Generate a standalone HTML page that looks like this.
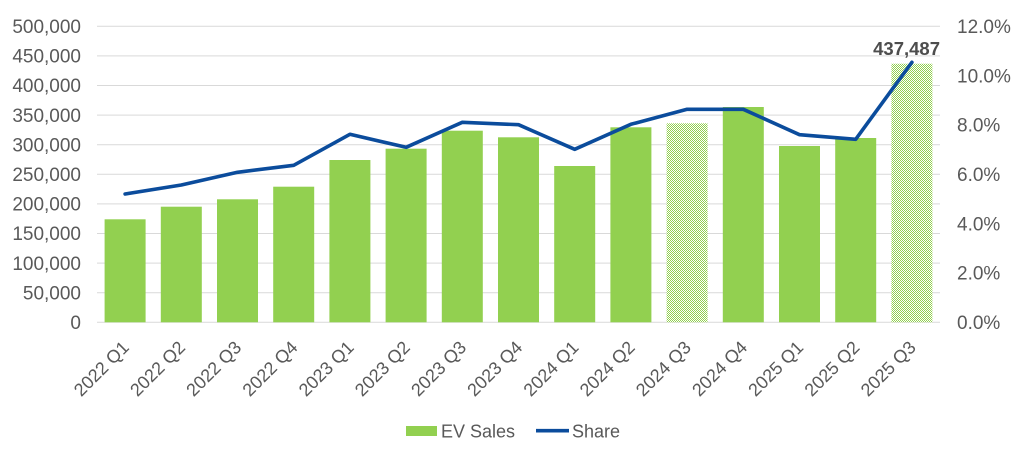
<!DOCTYPE html>
<html>
<head>
<meta charset="utf-8">
<style>
  html, body { margin: 0; padding: 0; background: #ffffff; }
  svg { display: block; }
  text { font-family: "Liberation Sans", Arial, sans-serif; fill: #595959; }
</style>
</head>
<body>
<svg width="1024" height="453" viewBox="0 0 1024 453" xmlns="http://www.w3.org/2000/svg">
  <defs>
    <pattern id="hatch" x="0" y="0" width="2" height="2" patternUnits="userSpaceOnUse">
      <rect width="2" height="2" fill="#ffffff"/>
      <rect x="0" y="0" width="1" height="1" fill="#92D050"/>
      <rect x="1" y="1" width="1" height="1" fill="#92D050"/>
    </pattern>
  </defs>

  <!-- gridlines -->
  <g stroke="#D9D9D9" stroke-width="1">
    <line x1="97" x2="940" y1="26.3" y2="26.3"/>
    <line x1="97" x2="940" y1="55.9" y2="55.9"/>
    <line x1="97" x2="940" y1="85.5" y2="85.5"/>
    <line x1="97" x2="940" y1="115.1" y2="115.1"/>
    <line x1="97" x2="940" y1="144.7" y2="144.7"/>
    <line x1="97" x2="940" y1="174.3" y2="174.3"/>
    <line x1="97" x2="940" y1="203.9" y2="203.9"/>
    <line x1="97" x2="940" y1="233.5" y2="233.5"/>
    <line x1="97" x2="940" y1="263.1" y2="263.1"/>
    <line x1="97" x2="940" y1="292.7" y2="292.7"/>
    <line x1="97" x2="940" y1="322.3" y2="322.3"/>
  </g>

  <!-- left axis labels -->
  <g font-size="19" text-anchor="end">
    <text x="81" y="33">500,000</text>
    <text x="81" y="62.6">450,000</text>
    <text x="81" y="92.2">400,000</text>
    <text x="81" y="121.8">350,000</text>
    <text x="81" y="151.4">300,000</text>
    <text x="81" y="181">250,000</text>
    <text x="81" y="210.6">200,000</text>
    <text x="81" y="240.2">150,000</text>
    <text x="81" y="269.8">100,000</text>
    <text x="81" y="299.4">50,000</text>
    <text x="81" y="329">0</text>
  </g>

  <!-- right axis labels -->
  <g font-size="19" text-anchor="start">
    <text x="957" y="33">12.0%</text>
    <text x="957" y="82.3">10.0%</text>
    <text x="957" y="131.7">8.0%</text>
    <text x="957" y="181">6.0%</text>
    <text x="957" y="230.3">4.0%</text>
    <text x="957" y="279.7">2.0%</text>
    <text x="957" y="329">0.0%</text>
  </g>

  <!-- bars -->
  <g fill="#92D050">
    <rect x="104.6" y="219.3" width="41" height="103"/>
    <rect x="160.8" y="206.7" width="41" height="115.6"/>
    <rect x="217" y="199.3" width="41" height="123"/>
    <rect x="273.2" y="186.7" width="41" height="135.6"/>
    <rect x="329.4" y="160" width="41" height="162.3"/>
    <rect x="385.6" y="148.7" width="41" height="173.6"/>
    <rect x="441.8" y="130.7" width="41" height="191.6"/>
    <rect x="498" y="137.3" width="41" height="185"/>
    <rect x="554.2" y="166" width="41" height="156.3"/>
    <rect x="610.4" y="127.3" width="41" height="195"/>
    <rect x="722.8" y="107" width="41" height="215.3"/>
    <rect x="779" y="146" width="41" height="176.3"/>
    <rect x="835.2" y="138" width="41" height="184.3"/>
  </g>
  <rect x="666.6" y="123.3" width="41" height="199" fill="url(#hatch)"/>
  <rect x="891.4" y="63.7" width="41" height="258.6" fill="url(#hatch)"/>

  <!-- share line -->
  <polyline fill="none" stroke="#0B4C9C" stroke-width="3.6" stroke-linejoin="round" stroke-linecap="round"
    points="125.1,194 181.3,185 237.5,172.3 293.7,165.3 349.9,134.3 406.1,147.3 462.3,122.3 518.5,124.7 574.7,149.3 630.9,124.3 687.1,109.3 743.3,109.3 799.5,134.7 855.7,139.3 911.9,62.3"/>

  <!-- data label -->
  <text x="940" y="55" font-size="18.5" font-weight="bold" text-anchor="end" style="fill:#4D4D4D">437,487</text>

  <!-- x axis labels -->
  <g font-size="18" text-anchor="end">
    <text transform="translate(130.1,348.5) rotate(-45)">2022 Q1</text>
    <text transform="translate(186.3,348.5) rotate(-45)">2022 Q2</text>
    <text transform="translate(242.5,348.5) rotate(-45)">2022 Q3</text>
    <text transform="translate(298.7,348.5) rotate(-45)">2022 Q4</text>
    <text transform="translate(354.9,348.5) rotate(-45)">2023 Q1</text>
    <text transform="translate(411.1,348.5) rotate(-45)">2023 Q2</text>
    <text transform="translate(467.3,348.5) rotate(-45)">2023 Q3</text>
    <text transform="translate(523.5,348.5) rotate(-45)">2023 Q4</text>
    <text transform="translate(579.7,348.5) rotate(-45)">2024 Q1</text>
    <text transform="translate(635.9,348.5) rotate(-45)">2024 Q2</text>
    <text transform="translate(692.1,348.5) rotate(-45)">2024 Q3</text>
    <text transform="translate(748.3,348.5) rotate(-45)">2024 Q4</text>
    <text transform="translate(804.5,348.5) rotate(-45)">2025 Q1</text>
    <text transform="translate(860.7,348.5) rotate(-45)">2025 Q2</text>
    <text transform="translate(916.9,348.5) rotate(-45)">2025 Q3</text>
  </g>

  <!-- legend -->
  <rect x="406" y="426" width="31" height="10" fill="#92D050"/>
  <text x="441" y="437.5" font-size="18">EV Sales</text>
  <line x1="536" x2="569" y1="430.7" y2="430.7" stroke="#0B4C9C" stroke-width="3.6"/>
  <text x="572" y="437.5" font-size="18">Share</text>
</svg>
</body>
</html>
